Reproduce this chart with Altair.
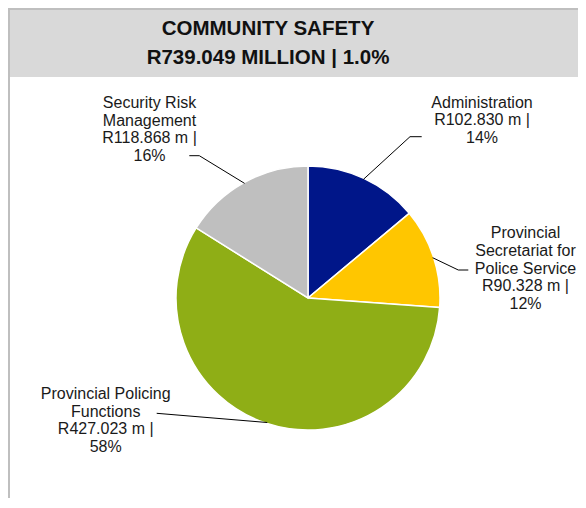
import math
import altair as alt
import pandas as pd

# ---- data ----
categories = ["Administration", "Provincial Secretariat for Police Service",
              "Provincial Policing Functions", "Security Risk Management"]
values = [102.830, 90.328, 427.023, 118.868]
colors = ["#001689", "#FFC600", "#8FAE16", "#BFBFBF"]
title_lines = ["COMMUNITY SAFETY", "R739.049 MILLION | 1.0%"]
wrapped_names = {
    "Administration": ["Administration"],
    "Provincial Secretariat for Police Service": ["Provincial", "Secretariat for", "Police Service"],
    "Provincial Policing Functions": ["Provincial Policing", "Functions"],
    "Security Risk Management": ["Security Risk", "Management"],
}

# ---- layout (view pixel coordinates) ----
W, H = 570, 490
CX, CY, R = 300, 290, 132
label_pos = {  # centre x, first baseline y
    "Administration": (474, 99.7),
    "Provincial Secretariat for Police Service": (517.5, 230.3),
    "Provincial Policing Functions": (97.7, 391),
    "Security Risk Management": (141.5, 100),
}
leader_pts = {  # elbow, end
    "Administration": [(402, 128.7), (413.7, 128.7)],
    "Provincial Secretariat for Police Service": [(450.3, 262), (460.3, 262)],
    "Provincial Policing Functions": [(148.7, 405.3)],
    "Security Risk Management": [(191.3, 147.7), (181.3, 147.7)],
}

total = sum(values)
pie_df = pd.DataFrame({"category": categories, "value": values,
                       "order": list(range(len(categories)))})

rows, lab_rows = [], []
cum = 0.0
for cat, v in zip(categories, values):
    mid = (cum + v / 2) / total * 2 * math.pi
    cum += v
    ex, ey = CX + (R - 1) * math.sin(mid), CY - (R - 1) * math.cos(mid)
    pts = [(ex, ey)] + leader_pts[cat]
    for i, (px, py) in enumerate(pts):
        rows.append({"category": cat, "seq": i, "x": px, "y": py})
    pct = round(v / total * 100)
    text = "\n".join(wrapped_names[cat] + [f"R{v:.3f} m |", f"{pct}%"])
    lx, ly = label_pos[cat]
    lab_rows.append({"category": cat, "x": lx, "y": ly, "text": text})
leader_df = pd.DataFrame(rows)
label_df = pd.DataFrame(lab_rows)

xs = alt.Scale(domain=[0, W], range=[0, W], nice=False, zero=False)
ys = alt.Scale(domain=[0, H], range=[0, H], nice=False, zero=False)

dummy = pd.DataFrame({"a": [0]})
border_left = alt.Chart(dummy).mark_rect(color="#BFBFBF").encode(
    x=alt.value(0), x2=alt.value(2), y=alt.value(0), y2=alt.value(H))
border_top = alt.Chart(dummy).mark_rect(color="#BFBFBF").encode(
    x=alt.value(0), x2=alt.value(W), y=alt.value(0), y2=alt.value(2))
title_box = alt.Chart(dummy).mark_rect(color="#D9D9D9").encode(
    x=alt.value(2), x2=alt.value(W), y=alt.value(2), y2=alt.value(69))
t1 = alt.Chart(dummy).mark_text(font="Liberation Sans", fontWeight="bold", fontSize=20.5,
                                color="#111111", align="center", baseline="alphabetic").encode(
    x=alt.value(260), y=alt.value(27), text=alt.value(title_lines[0]))
t2 = alt.Chart(dummy).mark_text(font="Liberation Sans", fontWeight="bold", fontSize=20.5,
                                color="#111111", align="center", baseline="alphabetic").encode(
    x=alt.value(260), y=alt.value(56), text=alt.value(title_lines[1]))

pie = alt.Chart(pie_df).mark_arc(radius=R, stroke="white", strokeWidth=1.5).encode(
    theta=alt.Theta("value:Q", stack=True),
    color=alt.Color("category:N", scale=alt.Scale(domain=categories, range=colors), legend=None),
    order=alt.Order("order:Q"),
    x=alt.value(CX), y=alt.value(CY),
)

leaders = alt.Chart(leader_df).mark_line(color="#000000", strokeWidth=1).encode(
    x=alt.X("x:Q", scale=xs, axis=None),
    y=alt.Y("y:Q", scale=ys, axis=None),
    detail="category:N",
    order="seq:Q",
)

labels = alt.Chart(label_df).mark_text(font="Liberation Sans", fontSize=16, color="#1a1a1a",
                                       align="center", baseline="alphabetic",
                                       lineBreak="\n", lineHeight=17.7).encode(
    x=alt.X("x:Q", scale=xs, axis=None),
    y=alt.Y("y:Q", scale=ys, axis=None),
    text="text:N",
)

chart = alt.layer(border_left, border_top, title_box, t1, t2, pie, leaders, labels).properties(
    width=W, height=H, padding=0, autosize="none"
).configure_view(stroke=None)

chart.save("out.html", embed_options={"renderer": "svg", "actions": False})
